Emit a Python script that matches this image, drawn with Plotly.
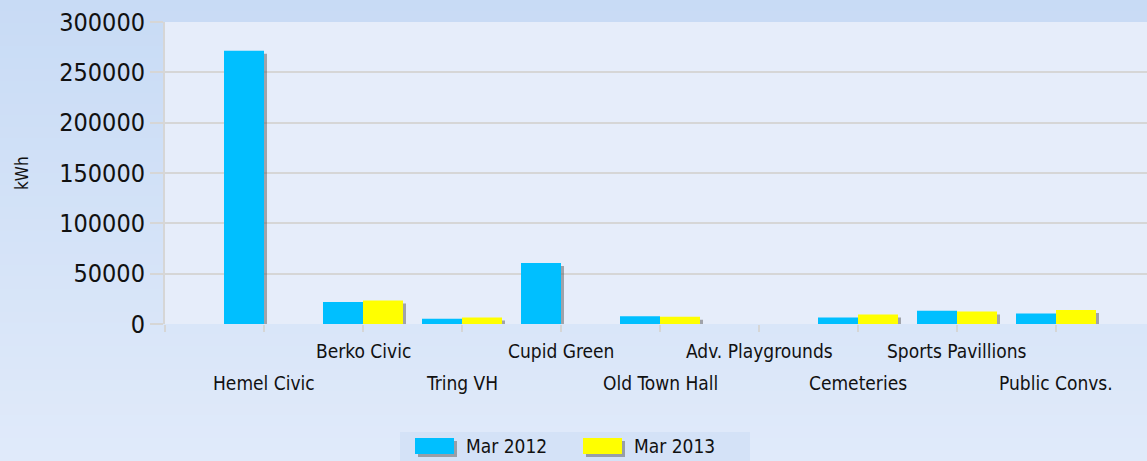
import plotly.graph_objects as go

# ---------------- data ----------------
categories = ["Hemel Civic", "Berko Civic", "Tring VH", "Cupid Green", "Old Town Hall",
              "Adv. Playgrounds", "Cemeteries", "Sports Pavillions", "Public Convs."]
series_names = ["Mar 2012", "Mar 2013"]
mar_2012 = [271500, 21800, 5200, 60700, 7800, 0, 6500, 13100, 10500]
mar_2013 = [0, 23400, 6500, 0, 7200, 0, 9500, 12500, 13800]
y_tick_values = [0, 50000, 100000, 150000, 200000, 250000, 300000]

# ---------------- layout constants ----------------
W, H = 1147, 461
ML, MR, MT, MB = 165, 0, 22, 137
PW, PH = W - ML - MR, H - MT - MB
CAT_PX = 99.0
BAR_W = 40.0 / CAT_PX
FONT = "DejaVu Sans Condensed, DejaVu Sans, sans-serif"
COL_BLUE = "#00bfff"
COL_YEL = "#ffff00"
GRID = "#d6d6d6"
SHADOW = "rgba(90,90,90,0.5)"

def px_x(p):
    return (p - ML) / PW

def px_y(p):
    return (H - MB - p) / PH

positions = list(range(len(categories)))
kwh_per_px = (y_tick_values[-1] - y_tick_values[0]) / PH
shadow_dx = 3.0 / CAT_PX
shadow_dy = 3.0 * kwh_per_px

fig = go.Figure()

# shadows
for vals, off in [(mar_2012, -BAR_W), (mar_2013, 0.0)]:
    fig.add_trace(go.Bar(
        x=positions, y=vals, base=[-shadow_dy] * len(vals),
        offset=off + shadow_dx, width=BAR_W,
        marker=dict(color=SHADOW, line=dict(width=0)),
        cliponaxis=False, showlegend=False, hoverinfo="skip"))

# main bars
for name, vals, off, col in [(series_names[0], mar_2012, -BAR_W, COL_BLUE),
                             (series_names[1], mar_2013, 0.0, COL_YEL)]:
    fig.add_trace(go.Bar(
        x=positions, y=vals, name=name, offset=off, width=BAR_W,
        marker=dict(color=col, line=dict(width=0)),
        cliponaxis=False, showlegend=False))

shapes = []
# background gradient strips (paper)
top_rgb = (0xc8, 0xdb, 0xf5)
bot_rgb = (0xe0, 0xea, 0xfa)
N = 40
for i in range(N):
    t = i / (N - 1)
    c = tuple(int(round(top_rgb[k] + (bot_rgb[k] - top_rgb[k]) * t)) for k in range(3))
    y0p = i * H / N
    y1p = (i + 1) * H / N + 1
    shapes.append(dict(type="rect", xref="paper", yref="paper", layer="below",
                       x0=px_x(0), x1=px_x(W), y0=px_y(y1p), y1=px_y(y0p),
                       line=dict(width=0), fillcolor="rgb(%d,%d,%d)" % c))
# plot area
shapes.append(dict(type="rect", xref="paper", yref="paper", layer="below",
                   x0=0, x1=1, y0=0, y1=1, line=dict(width=0), fillcolor="#e6edfa"))
# legend band
shapes.append(dict(type="rect", xref="paper", yref="paper", layer="below",
                   x0=px_x(400), x1=px_x(750), y0=px_y(461), y1=px_y(432),
                   line=dict(width=0), fillcolor="#d4e2f7"))

annotations = []
# category labels in two staggered rows
for i, cat in enumerate(categories):
    annotations.append(dict(x=positions[i], y=0, xref="x", yref="paper",
                            text=cat, showarrow=False, xanchor="center", yanchor="middle",
                            yshift=-27 if i % 2 == 1 else -59,
                            font=dict(family=FONT, size=19, color="#111111")))
# y-axis title
annotations.append(dict(x=0, y=0.5, xref="paper", yref="paper", text="kWh",
                        textangle=-90, showarrow=False, xanchor="center", yanchor="middle",
                        xshift=-(ML - 22), font=dict(family=FONT, size=17, color="#111111")))

# manual legend
legend_items = [(series_names[0], COL_BLUE, 415, 464), (series_names[1], COL_YEL, 583, 632)]
for name, col, sx, tx in legend_items:
    shapes.append(dict(type="rect", xref="paper", yref="paper", layer="below",
                       x0=px_x(sx + 3), x1=px_x(sx + 42), y0=px_y(457), y1=px_y(441),
                       line=dict(width=0), fillcolor=SHADOW))
    shapes.append(dict(type="rect", xref="paper", yref="paper", layer="below",
                       x0=px_x(sx), x1=px_x(sx + 39), y0=px_y(454), y1=px_y(438),
                       line=dict(width=0), fillcolor=col))
    annotations.append(dict(x=px_x(tx), y=px_y(446), xref="paper", yref="paper",
                            text=name, showarrow=False, xanchor="left", yanchor="middle",
                            font=dict(family=FONT, size=19, color="#111111")))

fig.update_layout(
    width=W, height=H,
    margin=dict(l=ML, r=MR, t=MT, b=MB, pad=0),
    paper_bgcolor="rgba(0,0,0,0)", plot_bgcolor="rgba(0,0,0,0)",
    barmode="overlay", showlegend=False,
    shapes=shapes, annotations=annotations,
    xaxis=dict(range=[-1, -1 + PW / CAT_PX], tickmode="array",
               tickvals=[-1] + positions, showticklabels=False,
               ticks="outside", ticklen=7, tickwidth=2, tickcolor=GRID,
               showgrid=False, zeroline=False, showline=False, fixedrange=True),
    yaxis=dict(range=[y_tick_values[0], y_tick_values[-1]], tickmode="array",
               tickvals=y_tick_values, tickformat="d",
               ticks="outside", ticklen=13, tickwidth=2, tickcolor=GRID,
               showgrid=True, gridcolor=GRID, gridwidth=2,
               showline=True, linecolor=GRID, linewidth=2, zeroline=False,
               tickfont=dict(family=FONT, size=25, color="#111111"), fixedrange=True),
)

fig.write_html(
    "out.html",
    config={"displayModeBar": False},
    post_script="document.body.style.margin='0px';document.body.style.overflow='hidden';"
                "document.documentElement.style.overflow='hidden';",
)
